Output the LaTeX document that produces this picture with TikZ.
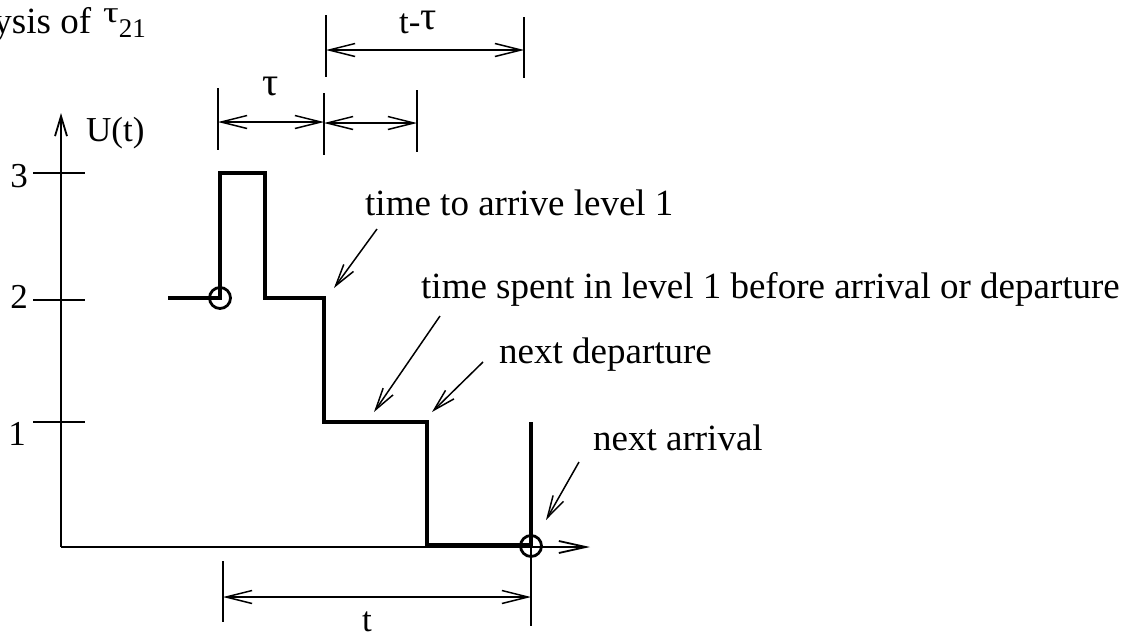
\documentclass[tikz,border=0pt]{standalone}
\usepackage{fontspec}
\setmainfont{Liberation Serif}
\usetikzlibrary{arrows.meta}
\begin{document}
\begin{tikzpicture}[x=1pt,y=-1pt,line join=miter,
  stair/.style={line width=3.2pt},
  axisline/.style={line width=1.8pt},
  thinline/.style={line width=1.6pt},
  dimarrow/.style={line width=1.5pt,
    {Straight Barb[length=26pt,width=13pt]}-{Straight Barb[length=26pt,width=13pt]}},
  callout/.style={line width=1.5pt,-{Straight Barb[length=22pt,width=12pt]}},
  lbl/.style={inner sep=0pt,font=\fontsize{37}{44}\selectfont},
  numlbl/.style={inner sep=0pt,font=\fontsize{35}{42}\selectfont},
  ring/.style={circle,draw,line width=2.8pt,minimum size=21pt,inner sep=0pt}]
\useasboundingbox (0,0) rectangle (1140,632);
\clip (0,0) rectangle (1140,632);

% title
\node[lbl,anchor=base east] (title) at (146,33)
  {Analysis of\hspace{12pt}{\fontsize{30}{32}\selectfont\raisebox{11pt}{\scalebox{1.3}[1]{τ}}}{\fontsize{27}{30}\selectfont\raisebox{-4pt}{21}}};

% axes
\coordinate (O) at (61,547);
\coordinate (ytop) at (61,113);
\coordinate (xend) at (590,547);
\draw[axisline,-{Straight Barb[length=20pt,width=12pt]}] (O) -- (ytop);
\draw[axisline,-{Straight Barb[length=27pt,width=12pt]}] (O) -- (xend);
\node[numlbl,anchor=base west] (ulbl) at (86,141) {U(t)};

% ticks and level labels
\foreach \lv/\yy/\by/\bx in {3/173/187/28, 2/300/308/28, 1/422/445/26}{
  \coordinate (tk\lv a) at (33,\yy);
  \coordinate (tk\lv b) at (85,\yy);
  \draw[axisline] (tk\lv a) -- (tk\lv b);
  \node[numlbl,anchor=base east] (lv\lv) at (\bx,\by) {\lv};
}

% arrival rings
\node[ring] (arr1) at (220,298) {};
\node[ring] (arr2) at (531,546) {};

% sample path of U(t)
\coordinate (s0) at (168,298);
\coordinate (s1) at (220,173);
\coordinate (s2) at (265,173);
\coordinate (s3) at (265,298);
\coordinate (s4) at (324,298);
\coordinate (s5) at (324,422);
\coordinate (s6) at (427,422);
\coordinate (s7) at (427,545);
\coordinate (s8) at (531,545);
\coordinate (s9) at (531,422);
\draw[stair] (s0) -- (arr1.center) -- (s1) -- (s2) -- (s3) -- (s4) -- (s5) -- (s6) -- (s7) -- (s8) -- (s9);

% dimension t
\coordinate (tl1) at (223,561);
\coordinate (tl2) at (223,622);
\coordinate (tr2) at (531,626);
\draw[thinline] (tl1) -- (tl2);
\draw[thinline] (arr2.center) -- (tr2);
\coordinate (ta) at (223,597);
\coordinate (tb) at (531,597);
\draw[dimarrow] (ta) -- (tb);
\node[numlbl,anchor=base] (tlbl) at (367,631) {t};

% dimension bars above the path
\coordinate (b1t) at (218,88);  \coordinate (b1b) at (218,150);
\coordinate (b2t) at (324,93);  \coordinate (b2b) at (324,155);
\coordinate (b3t) at (417,90);  \coordinate (b3b) at (417,152);
\coordinate (b4t) at (326,15);  \coordinate (b4b) at (326,77);
\coordinate (b5t) at (524,17);  \coordinate (b5b) at (524,78);
\foreach \b in {b1,b2,b3,b4,b5}{\draw[thinline] (\b t) -- (\b b);}

\coordinate (d1a) at (218,122); \coordinate (d1b) at (324,122);
\coordinate (d2a) at (324,123); \coordinate (d2b) at (417,123);
\coordinate (d3a) at (326,50);  \coordinate (d3b) at (524,50);
\draw[dimarrow] (d1a) -- (d1b);
\draw[dimarrow] (d2a) -- (d2b);
\draw[dimarrow] (d3a) -- (d3b);
\node[numlbl,anchor=base] (taulbl) at (271,95) {\scalebox{1.15}{τ}};
\node[numlbl,anchor=base west] (tmtau) at (399,33) {t-\raisebox{4pt}{\scalebox{1.15}{τ}}};

% callouts
\node[lbl,anchor=base west] (c1) at (365,215) {time to arrive level 1};
\node[lbl,anchor=base west] (c2) at (421,298) {time spent in level 1 before arrival or departure};
\node[lbl,anchor=base west] (c3) at (499,363) {next departure};
\node[lbl,anchor=base west] (c4) at (593,450) {next arrival};

\coordinate (c1t) at (377,229); \coordinate (c1h) at (334,288);
\coordinate (c2t) at (440,316); \coordinate (c2h) at (374,412);
\coordinate (c3t) at (483,362); \coordinate (c3h) at (432,412);
\coordinate (c4t) at (579,462); \coordinate (c4h) at (546,520);
\draw[callout] (c1t) -- (c1h);
\draw[callout] (c2t) -- (c2h);
\draw[callout] (c3t) -- (c3h);
\draw[callout] (c4t) -- (c4h);
\end{tikzpicture}
\end{document}
